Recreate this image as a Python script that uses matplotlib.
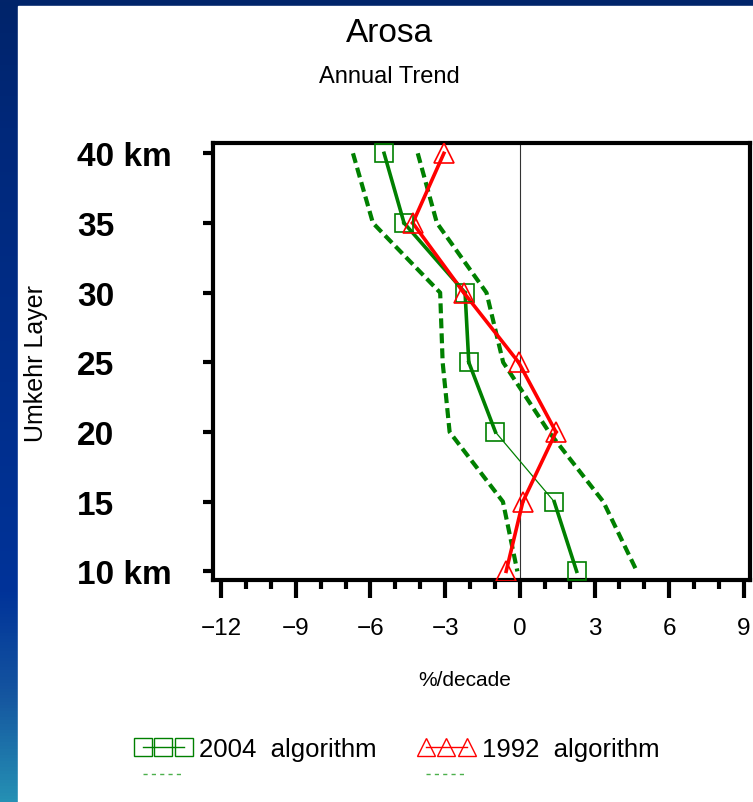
import numpy as np
import matplotlib.pyplot as plt
from matplotlib.colors import LinearSegmentedColormap
from matplotlib.lines import Line2D
from matplotlib.patches import Rectangle

plt.rcParams['font.family'] = ['Liberation Sans', 'DejaVu Sans']

# Umkehr layers (km) and trends (%/decade)
layers = [40, 35, 30, 25, 20, 15, 10]
layer_labels = ['40 km', '35', '30', '25', '20', '15', '10 km']
trend_2004 = [-5.45, -4.65, -2.2, -2.05, -0.98, 1.38, 2.28]
lower_2004 = [-6.7, -5.9, -3.2, -3.1, -2.82, -0.68, -0.1]
upper_2004 = [-4.1, -3.33, -1.34, -0.67, 1.17, 3.35, 4.7]
trend_1992 = [-3.05, -4.3, -2.25, -0.05, 1.45, 0.12, -0.55]
# significance of each segment between adjacent layers
signif_2004 = [True, True, True, True, False, True]
signif_1992 = [True, True, True, True, True, True]
xticks = [-12, -9, -6, -3, 0, 3, 6, 9]

W, H = 753, 803
fig = plt.figure(figsize=(W / 100, H / 100), dpi=100)

# slide background: blue gradient frame + white panel
bg = fig.add_axes([0, 0, 1, 1], zorder=-10)
cmap = LinearSegmentedColormap.from_list(
    'slide', [(0, '#01246a'), (0.16, '#00287a'), (0.74, '#003399'),
              (0.87, '#1556a0'), (1.0, '#2590b4')])
bg.imshow(np.linspace(0, 1, 256).reshape(-1, 1), cmap=cmap, aspect='auto',
          extent=[0, 1, 0, 1], origin='upper')
bg.add_patch(Rectangle((18 / W, 0), 1, 1 - 7 / H, color='white'))
bg.set_xlim(0, 1)
bg.set_ylim(0, 1)
bg.axis('off')

ax = fig.add_axes([213 / W, 1 - 581 / H, (750 - 213) / W, (581 - 144) / H])
ax.set_xlim(-12.32, 9.24)
ax.set_ylim(9.38, 40.74)

green = '#008000'
red = '#ff0000'

ax.axvline(0, color='#333333', lw=0.8, zorder=1)

dash = dict(color=green, lw=3, dashes=(2.4, 1.2), zorder=2)
ax.plot(lower_2004, layers, **dash)
ax.plot(upper_2004, layers, **dash)

for i in range(len(layers) - 1):
    ax.plot(trend_2004[i:i + 2], layers[i:i + 2], color=green,
            lw=2.6 if signif_2004[i] else 0.9, zorder=3)
for i in range(len(layers) - 1):
    ax.plot(trend_1992[i:i + 2], layers[i:i + 2], color=red,
            lw=2.6 if signif_1992[i] else 0.9, zorder=4)

ax.plot(trend_2004, layers, ls='none', marker='s', ms=13, mfc='none',
        mec=green, mew=1.2, zorder=5)
ax.plot(trend_1992, layers, ls='none', marker='^', ms=14, mfc='none',
        mec=red, mew=1.2, zorder=5)

for s in ax.spines.values():
    s.set_linewidth(3)
ax.set_xticks(xticks)
ax.set_xticklabels([f'\u2212{abs(v)}' if v < 0 else str(v) for v in xticks],
                   fontsize=17.5)
ax.set_xticks(np.arange(-12, 10, 1), minor=True)
ax.tick_params(axis='x', which='major', direction='out', length=13, width=3, pad=14)
ax.tick_params(axis='x', which='minor', direction='out', length=6.5, width=3)
ax.set_yticks(layers)
ax.set_yticklabels(layer_labels, fontsize=24, fontweight='bold', ha='left')
ax.tick_params(axis='y', direction='out', length=7, width=3, pad=91)

fig.text(389 / W, 1 - 34 / H, 'Arosa', fontsize=24, ha='center', va='center')
fig.text(389 / W, 1 - 77 / H, 'Annual Trend', fontsize=17, ha='center', va='center')
fig.text(465 / W, 1 - 680 / H, '%/decade', fontsize=15, ha='center', va='center')
fig.text(36 / W, 1 - 363 / H, 'Umkehr Layer', fontsize=18, rotation=90,
         ha='center', va='center')

h2004 = Line2D([], [], color=green, lw=1, marker='s', ms=13, mfc='none', mec=green, mew=1)
h1992 = Line2D([], [], color=red, lw=1, marker='^', ms=13, mfc='none', mec=red, mew=1)
hdash = Line2D([], [], color='#4cb04c', lw=1, dashes=(3, 3))
fig.legend([h2004, hdash, h1992, hdash], ['2004  algorithm', '', '1992  algorithm', ''],
           ncol=2, numpoints=3, frameon=False, fontsize=18.5,
           loc='upper left', bbox_to_anchor=(135 / W, 1 - 738 / H),
           handlelength=2.2, handletextpad=0.3, columnspacing=1.6,
           labelspacing=0.1, borderpad=0, borderaxespad=0)

fig.savefig('out.png', dpi=100)
